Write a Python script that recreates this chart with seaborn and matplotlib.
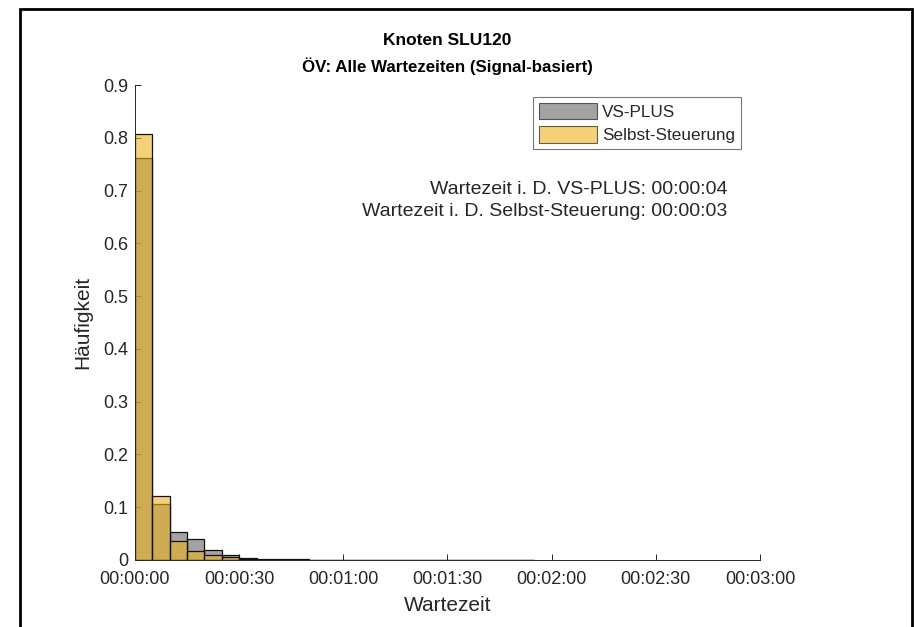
import numpy as np
import pandas as pd
import matplotlib
matplotlib.use("Agg")
import matplotlib.pyplot as plt
import seaborn as sns
from matplotlib.patches import Rectangle, Patch

sns.set_style("white")
plt.rcParams['font.family'] = ['Liberation Sans', 'DejaVu Sans']

# bins of 5 seconds, 0 .. 115 s
bin_width = 5
bin_left = np.arange(0, 115, bin_width)
vs_plus = [0.762, 0.106, 0.0536, 0.039, 0.019, 0.010, 0.003, 0.002, 0.002, 0.001,
           0.0005, 0.0003, 0.0002, 0.0001, 0.0001, 0.0001, 0.0001, 0.0, 0.0, 0.0,
           0.0, 0.0, 0.0001]
selbst = [0.807, 0.122, 0.0366, 0.017, 0.009, 0.005, 0.001, 0.0005, 0.0003, 0.0002,
          0.0001, 0.0001, 0.0001, 0.0, 0.0, 0.0, 0.0, 0.0, 0.0, 0.0,
          0.0, 0.0, 0.0]
series_names = ["VS-PLUS", "Selbst-Steuerung"]
x_ticks = [0, 30, 60, 90, 120, 150, 180]
x_tick_labels = ["00:00:00", "00:00:30", "00:01:00", "00:01:30", "00:02:00", "00:02:30", "00:03:00"]
y_ticks = [0, 0.1, 0.2, 0.3, 0.4, 0.5, 0.6, 0.7, 0.8, 0.9]
title_lines = ["Knoten SLU120", "ÖV: Alle Wartezeiten (Signal-basiert)"]
annotations = ["Wartezeit i. D. VS-PLUS: 00:00:04", "Wartezeit i. D. Selbst-Steuerung: 00:00:03"]

gray_c = "#666666"
orange_c = "#EDB120"
txt_c = "#262626"

fig = plt.figure(figsize=(9.14, 6.27), dpi=100)
ax = fig.add_axes([0.1477, 0.1069, 0.6838, 0.7575])

centers = bin_left + bin_width / 2
df_vs = pd.DataFrame({"t": centers, "w": vs_plus})
df_ss = pd.DataFrame({"t": centers, "w": selbst})
brange = (float(bin_left[0]), float(bin_left[-1] + bin_width))
sns.histplot(data=df_vs, x="t", weights="w", binwidth=bin_width, binrange=brange,
             stat="count", ax=ax, color=gray_c, alpha=0.6, edgecolor="#111111",
             linewidth=0.9)
sns.histplot(data=df_ss, x="t", weights="w", binwidth=bin_width, binrange=brange,
             stat="count", ax=ax, color=orange_c, alpha=0.6, edgecolor="#111111",
             linewidth=0.9)

ax.set_xlim(0, 180)
ax.set_ylim(0, 0.9)
ax.set_xticks(x_ticks)
ax.set_xticklabels(x_tick_labels)
ax.set_yticks(y_ticks)
ax.set_yticklabels(["0"] + [f"{v:.1f}" for v in y_ticks[1:]])
ax.tick_params(direction="in", length=4, width=0.7, colors=txt_c, labelsize=13,
               bottom=True, left=True)
ax.tick_params(axis="x", pad=8)
ax.tick_params(axis="y", pad=5)
for s in ["top", "right"]:
    ax.spines[s].set_visible(False)
for s in ["left", "bottom"]:
    ax.spines[s].set_color(txt_c)
    ax.spines[s].set_linewidth(0.7)
ax.set_xlabel("Wartezeit", fontsize=15, color=txt_c, labelpad=6)
ax.set_ylabel("Häufigkeit", fontsize=15, color=txt_c, labelpad=8)

fig.text(0.489, 0.935, title_lines[0], ha="center", va="center", fontsize=12.5,
         fontweight="bold", color="black")
fig.text(0.489, 0.894, title_lines[1], ha="center", va="center", fontsize=12.2,
         fontweight="bold", color="black")

handles = [Patch(facecolor=gray_c, alpha=0.6, edgecolor="black", linewidth=0.8),
           Patch(facecolor=orange_c, alpha=0.6, edgecolor="black", linewidth=0.8)]
leg = ax.legend(handles, series_names, loc="upper right",
                bbox_to_anchor=(0.9695, 0.9755), fontsize=12.3, frameon=True,
                fancybox=False, handlelength=3.4, handleheight=1.1,
                handletextpad=0.3, labelspacing=0.4, borderpad=0.35,
                borderaxespad=0)
leg.get_frame().set_edgecolor("#555555")
leg.get_frame().set_linewidth(0.8)
for t in leg.get_texts():
    t.set_color(txt_c)

fig.text(0.796, 0.697, annotations[0], ha="right", va="center", fontsize=14, color=txt_c)
fig.text(0.796, 0.662, annotations[1], ha="right", va="center", fontsize=14, color=txt_c)

frame = Rectangle((20 / 914, -0.05), (912 - 20) / 914, 1.05 - 9 / 627,
                  transform=fig.transFigure, fill=False, edgecolor="black",
                  linewidth=2.0, clip_on=False)
fig.patches.append(frame)

fig.savefig("out.png", dpi=100)
